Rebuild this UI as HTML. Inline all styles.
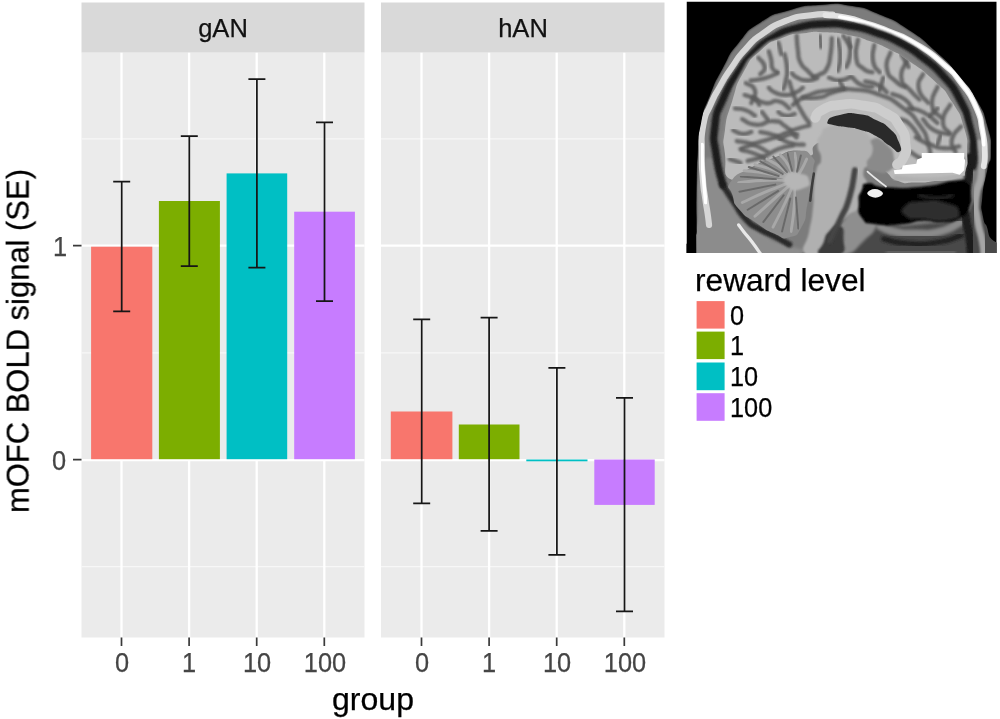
<!DOCTYPE html>
<html>
<head>
<meta charset="utf-8">
<title>mOFC BOLD signal by group</title>
<style>
html,body{margin:0;padding:0;background:#fff;}
body{width:1000px;height:719px;position:relative;overflow:hidden;font-family:"Liberation Sans",sans-serif;}
#chart{position:absolute;left:0;top:0;width:1000px;height:719px;}
.t{position:absolute;white-space:nowrap;line-height:1;font-family:"Liberation Sans",sans-serif;}
.ax{color:#454545;font-size:27.6px;--sx:0.92;}
.strip{color:#111;font-size:26.6px;--sx:0.96;}
.big{color:#000;font-size:31.9px;--sx:1.005;}
.leg{color:#000;font-size:27.5px;--sx:0.92;}
.t{filter:blur(0.35px);transform-origin:0 50%;transform:scaleX(var(--sx));-webkit-text-stroke:0.25px currentColor;}
.c{transform:translateX(-50%) scaleX(var(--sx));transform-origin:50% 50%;}
</style>
</head>
<body>
<svg id="chart" width="1000" height="719" viewBox="0 0 1000 719">
  <!-- strips -->
  <rect x="81.5" y="2.5" width="283" height="50.2" fill="#d9d9d9"/>
  <rect x="381" y="2.5" width="283.5" height="50.2" fill="#d9d9d9"/>
  <!-- panels -->
  <rect x="81.5" y="52.7" width="283" height="584.8" fill="#ebebeb"/>
  <rect x="381" y="52.7" width="283.5" height="584.8" fill="#ebebeb"/>
  <!-- minor gridlines -->
  <g stroke="#f7f7f7" stroke-width="1.2">
    <path d="M81.5 138.9H364.5M81.5 352.9H364.5M81.5 566.7H364.5"/>
    <path d="M381 138.9H664.5M381 352.9H664.5M381 566.7H664.5"/>
  </g>
  <!-- major gridlines -->
  <g stroke="#ffffff" stroke-width="2.3">
    <path d="M81.5 245.6H364.5M81.5 460.2H364.5"/>
    <path d="M381 245.6H664.5M381 460.2H664.5"/>
    <path d="M121.5 52.7V637.5M189.1 52.7V637.5M256.7 52.7V637.5M324.3 52.7V637.5"/>
    <path d="M421.5 52.7V637.5M489.1 52.7V637.5M556.7 52.7V637.5M624.3 52.7V637.5"/>
  </g>
  <!-- bars panel 1 -->
  <rect x="91.1" y="246.7" width="61.2" height="212.5" fill="#f8766d"/>
  <rect x="158.9" y="201" width="61" height="258.2" fill="#7cae00"/>
  <rect x="226.6" y="173.4" width="60.6" height="285.8" fill="#00bfc4"/>
  <rect x="294.2" y="211.7" width="60.7" height="247.5" fill="#c77cff"/>
  <!-- bars panel 2 -->
  <rect x="390.8" y="411.5" width="61.6" height="47.7" fill="#f8766d"/>
  <rect x="458.8" y="424.5" width="60.7" height="34.7" fill="#7cae00"/>
  <rect x="526.3" y="459.5" width="61.2" height="1.8" fill="#00bfc4"/>
  <rect x="594.3" y="459.5" width="60.4" height="45.4" fill="#c77cff"/>
  <!-- error bars -->
  <g stroke="#161616" stroke-width="1.75" fill="none">
    <path d="M113.2 181.5H130.2M121.7 181.5V311.4M113.2 311.4H130.2"/>
    <path d="M180.8 136H197.8M189.3 136V266M180.8 266H197.8"/>
    <path d="M248.4 79.2H265.4M256.9 79.2V267.5M248.4 267.5H265.4"/>
    <path d="M316 122.3H333M324.5 122.3V301.2M316 301.2H333"/>
    <path d="M413.2 319.4H430.2M421.7 319.4V503.3M413.2 503.3H430.2"/>
    <path d="M480.6 317.5H497.6M489.1 317.5V530.8M480.6 530.8H497.6"/>
    <path d="M548.4 367.8H565.4M556.9 367.8V554.8M548.4 554.8H565.4"/>
    <path d="M616 397.8H633M624.5 397.8V611.3M616 611.3H633"/>
  </g>
  <!-- ticks -->
  <g stroke="#3a3a3a" stroke-width="1.7">
    <path d="M73 245.6H81.5M73 459.6H81.5"/>
    <path d="M121.5 637.5V646M189.1 637.5V646M256.7 637.5V646M324.3 637.5V646"/>
    <path d="M421.5 637.5V646M489.1 637.5V646M556.7 637.5V646M624.3 637.5V646"/>
  </g>
  <!-- legend keys -->
  <rect x="696.6" y="301.1" width="28" height="27.5" fill="#f8766d"/>
  <rect x="696.6" y="331.6" width="28" height="27.5" fill="#7cae00"/>
  <rect x="696.6" y="362.5" width="28" height="27.7" fill="#00bfc4"/>
  <rect x="696.6" y="393.2" width="28" height="27.6" fill="#c77cff"/>
  <!-- brain image placeholder -->
<!--BRAIN_START-->
  <defs>
    <clipPath id="bclip"><rect x="686.5" y="1.5" width="310.2" height="251.5"/></clipPath>
    <filter id="b0" x="-10%" y="-10%" width="120%" height="120%"><feGaussianBlur stdDeviation="0.9"/></filter>
    <filter id="b1s" x="-30%" y="-30%" width="160%" height="160%"><feGaussianBlur stdDeviation="2.4"/></filter>
    <filter id="b1" x="-10%" y="-10%" width="120%" height="120%"><feGaussianBlur stdDeviation="1.6"/></filter>
    <filter id="b2" x="-10%" y="-10%" width="120%" height="120%"><feGaussianBlur stdDeviation="3"/></filter>
    <filter id="b3" x="-10%" y="-10%" width="120%" height="120%"><feGaussianBlur stdDeviation="5"/></filter>
    <filter id="b4" x="-20%" y="-20%" width="140%" height="140%"><feGaussianBlur stdDeviation="9"/></filter>
    <clipPath id="headclip"><path d="M74.0,740.0 C-197.7,706.7 74.3,706.7 74.0,640.0 C73.7,573.3 72.3,610.0 73.0,540.0 C73.7,470.0 71.7,496.7 76.0,430.0 C80.3,363.3 74.7,395.0 86.0,340.0 C97.3,285.0 90.3,315.0 110.0,265.0 C129.7,215.0 118.3,239.0 145.0,190.0 C171.7,141.0 155.0,160.7 190.0,118.0 C225.0,75.3 203.3,92.0 250.0,62.0 C296.7,32.0 273.3,44.3 330.0,28.0 C386.7,11.7 363.3,17.0 420.0,13.0 C476.7,9.0 446.7,7.0 500.0,16.0 C553.3,25.0 526.7,18.0 580.0,40.0 C633.3,62.0 608.3,48.0 660.0,82.0 C711.7,116.0 688.3,99.3 735.0,142.0 C781.7,184.7 762.3,165.3 800.0,210.0 C837.7,254.7 822.0,230.0 848.0,276.0 C874.0,322.0 864.7,300.0 878.0,348.0 C891.3,396.0 888.0,379.3 888.0,420.0 C888.0,460.7 886.0,428.3 878.0,470.0 C870.0,511.7 868.0,501.7 864.0,545.0 C860.0,588.3 860.0,565.0 866.0,600.0 C872.0,635.0 874.3,603.3 882.0,650.0 C889.7,696.7 1158.3,710.0 889.0,740.0 C619.7,770.0 345.7,773.3 74.0,740.0 Z"/></clipPath>
    <clipPath id="cerebrum"><path d="M168.0,496.0 C142.7,484.0 157.3,470.3 152.0,425.0 C146.7,379.7 145.3,408.3 152.0,360.0 C158.7,311.7 155.0,333.3 172.0,280.0 C189.0,226.7 177.0,246.7 203.0,200.0 C229.0,153.3 214.3,171.7 250.0,140.0 C285.7,108.3 270.0,121.0 310.0,105.0 C350.0,89.0 330.7,97.3 370.0,92.0 C409.3,86.7 384.7,87.0 428.0,89.0 C471.3,91.0 457.3,89.3 500.0,98.0 C542.7,106.7 519.3,101.7 556.0,115.0 C592.7,128.3 576.7,121.3 610.0,138.0 C643.3,154.7 615.7,136.7 656.0,165.0 C696.3,193.3 689.3,183.7 731.0,223.0 C772.7,262.3 753.3,239.0 781.0,283.0 C808.7,327.0 800.3,309.3 814.0,355.0 C827.7,400.7 820.7,381.7 822.0,420.0 C823.3,458.3 825.3,446.7 818.0,470.0 C810.7,493.3 826.0,480.0 800.0,490.0 C774.0,500.0 780.0,495.0 740.0,500.0 C700.0,505.0 716.7,505.0 680.0,505.0 C643.3,505.0 660.0,511.7 630.0,500.0 C600.0,488.3 620.0,490.0 590.0,470.0 C560.0,450.0 576.7,460.0 540.0,440.0 C503.3,420.0 516.7,424.0 480.0,410.0 C443.3,396.0 456.7,400.7 430.0,398.0 C403.3,395.3 414.0,391.0 400.0,402.0 C386.0,413.0 405.3,426.3 388.0,431.0 C370.7,435.7 381.3,414.3 348.0,416.0 C314.7,417.7 328.0,421.0 288.0,436.0 C248.0,451.0 268.0,441.0 228.0,461.0 C188.0,481.0 193.3,508.0 168.0,496.0 Z"/></clipPath>
  </defs>
  <g id="brain" clip-path="url(#bclip)">
    <rect x="686.5" y="1.5" width="310.2" height="251.5" fill="#000"/>
    <g transform="translate(670,0) scale(0.36145,0.36161)">
      <g clip-path="url(#headclip)" filter="url(#b0)">
      <path filter="url(#b2)" fill="#7c7c7c" d="M74.0,740.0 C-197.7,706.7 74.3,706.7 74.0,640.0 C73.7,573.3 72.3,610.0 73.0,540.0 C73.7,470.0 71.7,496.7 76.0,430.0 C80.3,363.3 74.7,395.0 86.0,340.0 C97.3,285.0 90.3,315.0 110.0,265.0 C129.7,215.0 118.3,239.0 145.0,190.0 C171.7,141.0 155.0,160.7 190.0,118.0 C225.0,75.3 203.3,92.0 250.0,62.0 C296.7,32.0 273.3,44.3 330.0,28.0 C386.7,11.7 363.3,17.0 420.0,13.0 C476.7,9.0 446.7,7.0 500.0,16.0 C553.3,25.0 526.7,18.0 580.0,40.0 C633.3,62.0 608.3,48.0 660.0,82.0 C711.7,116.0 688.3,99.3 735.0,142.0 C781.7,184.7 762.3,165.3 800.0,210.0 C837.7,254.7 822.0,230.0 848.0,276.0 C874.0,322.0 864.7,300.0 878.0,348.0 C891.3,396.0 888.0,379.3 888.0,420.0 C888.0,460.7 886.0,428.3 878.0,470.0 C870.0,511.7 868.0,501.7 864.0,545.0 C860.0,588.3 860.0,565.0 866.0,600.0 C872.0,635.0 874.3,603.3 882.0,650.0 C889.7,696.7 1158.3,710.0 889.0,740.0 C619.7,770.0 345.7,773.3 74.0,740.0 Z"/>
      <path filter="url(#b3)" fill="#8c8c8c" d="M74.0,740.0 C-44.0,693.3 72.7,686.7 76.0,600.0 C79.3,513.3 69.3,533.3 84.0,480.0 C98.7,426.7 98.0,433.3 120.0,440.0 C142.0,446.7 126.7,456.7 150.0,500.0 C173.3,543.3 156.7,523.3 190.0,570.0 C223.3,616.7 203.3,603.3 250.0,640.0 C296.7,676.7 270.0,660.0 330.0,680.0 C390.0,700.0 396.7,680.0 430.0,700.0 C463.3,720.0 548.7,726.7 430.0,740.0 C311.3,753.3 192.0,786.7 74.0,740.0 Z"/>
      <path filter="url(#b3)" fill="#4a4a4a" d="M440.0,650.0 C470.0,603.3 466.7,610.0 520.0,600.0 C573.3,590.0 540.0,613.3 600.0,620.0 C660.0,626.7 633.3,626.7 700.0,620.0 C766.7,613.3 753.3,620.0 800.0,600.0 C846.7,580.0 816.7,586.7 840.0,560.0 C863.3,533.3 855.0,506.7 870.0,520.0 C885.0,533.3 877.3,526.7 885.0,600.0 C892.7,673.3 1044.7,693.3 893.0,740.0 C741.3,786.7 581.0,770.0 430.0,740.0 C279.0,710.0 410.0,696.7 440.0,650.0 Z"/>
      <path filter="url(#b3)" fill="#8e8e8e" d="M531.5,560.7 C561.5,555.7 568.2,559.0 581.5,580.7 C594.8,602.4 586.5,597.4 571.5,625.7 C556.5,654.0 564.8,639.0 536.5,665.7 C508.2,692.4 519.8,692.4 486.5,705.7 C453.2,719.0 446.5,725.7 436.5,705.7 C426.5,685.7 438.2,682.4 456.5,645.7 C474.8,609.0 466.5,624.0 491.5,595.7 C516.5,567.4 501.5,565.7 531.5,560.7 Z"/>
      <path filter="url(#b3)" fill="none" stroke="#8a8a8a" stroke-width="22" stroke-linecap="round" stroke-linejoin="round" d="M581.5,625.7 C594.8,630.7 588.2,634.0 621.5,640.7 C654.8,647.4 639.8,645.7 681.5,645.7 C723.2,645.7 706.5,650.7 746.5,640.7 C786.5,630.7 783.2,624.0 801.5,615.7"/>
      <path filter="url(#b3)" fill="none" stroke="#1e1e1e" stroke-width="14" stroke-linecap="round" stroke-linejoin="round" d="M591.5,660.7 C613.2,664.9 608.2,669.9 656.5,673.2 C704.8,676.5 686.5,678.2 736.5,670.7 C786.5,663.2 783.2,657.4 806.5,650.7"/>
      <path filter="url(#b3)" fill="none" stroke="#606060" stroke-width="20" stroke-linecap="round" stroke-linejoin="round" d="M606.5,695.7 C631.5,696.5 623.2,698.2 681.5,698.2 C739.8,698.2 748.2,696.5 781.5,695.7"/>
      <path filter="url(#b2)" fill="none" stroke="#1c1c1c" stroke-width="24" stroke-linecap="round" stroke-linejoin="round" d="M825.5,405.7 C826.7,429.0 832.8,429.0 829.0,475.7 C825.2,522.4 817.3,502.4 814.0,545.7 C810.7,589.0 814.0,569.0 819.0,605.7 C824.0,642.4 824.0,622.4 829.0,655.7 C834.0,689.0 832.3,689.0 834.0,705.7"/>
      <path filter="url(#b2)" fill="none" stroke="#a6a6a6" stroke-width="20" stroke-linecap="round" stroke-linejoin="round" d="M856.5,395.7 C858.5,420.7 865.8,420.7 862.5,470.7 C859.2,520.7 850.5,500.7 846.5,545.7 C842.5,590.7 844.7,565.7 850.5,605.7 C856.3,645.7 857.8,632.4 864.0,665.7 C870.2,699.0 867.3,692.4 869.0,705.7"/>
      <path filter="url(#b1)" fill="none" stroke="#d6d6d6" stroke-width="17" stroke-linecap="round" stroke-linejoin="round" d="M108.0,622.0 C106.7,611.3 107.7,615.3 104.0,590.0 C100.3,564.7 101.3,577.3 97.0,546.0 C92.7,514.7 94.0,537.7 91.0,496.0 C88.0,454.3 87.7,471.0 88.0,421.0 C88.3,371.0 84.0,389.7 92.0,346.0 C100.0,302.3 96.7,325.3 112.0,290.0 C127.3,254.7 118.7,274.0 138.0,240.0 C157.3,206.0 146.0,223.0 170.0,188.0 C194.0,153.0 180.7,167.0 210.0,135.0 C239.3,103.0 221.3,117.7 258.0,92.0 C294.7,66.3 276.0,74.7 320.0,58.0 C364.0,41.3 346.7,48.0 390.0,42.0 C433.3,36.0 430.0,40.7 450.0,40.0"/>
      <path filter="url(#b1)" fill="none" stroke="#ffffff" stroke-width="10" stroke-linecap="round" stroke-linejoin="round" d="M99.0,560.0 C97.0,538.7 96.3,536.0 93.0,496.0 C89.7,456.0 90.3,472.0 89.0,440.0 C87.7,408.0 89.0,413.3 89.0,400.0"/>
      <path filter="url(#b1)" fill="none" stroke="#e4e4e4" stroke-width="16" stroke-linecap="round" stroke-linejoin="round" d="M430.0,42.0 C448.0,44.0 450.3,41.7 484.0,48.0 C517.7,54.3 490.3,48.0 531.0,61.0 C571.7,74.0 556.0,66.7 606.0,87.0 C656.0,107.3 631.0,92.0 681.0,122.0 C731.0,152.0 714.3,141.0 756.0,177.0 C797.7,213.0 776.0,190.7 806.0,230.0 C836.0,269.3 826.7,251.7 846.0,295.0 C865.3,338.3 855.7,318.3 864.0,360.0 C872.3,401.7 869.7,386.7 871.0,420.0 C872.3,453.3 869.0,446.7 868.0,460.0"/>
      <path filter="url(#b0)" fill="none" stroke="#ffffff" stroke-width="10" stroke-linecap="round" stroke-linejoin="round" d="M470.0,47.0 C490.3,51.7 485.7,47.7 531.0,61.0 C576.3,74.3 556.0,66.7 606.0,87.0 C656.0,107.3 631.0,92.0 681.0,122.0 C731.0,152.0 714.3,141.0 756.0,177.0 C797.7,213.0 776.0,190.7 806.0,230.0 C836.0,269.3 827.0,254.3 846.0,295.0 C865.0,335.7 855.7,317.0 863.0,352.0 C870.3,387.0 866.3,384.0 868.0,400.0"/>
      <path filter="url(#b1)" fill="none" stroke="#e8e8e8" stroke-width="9" stroke-linecap="round" stroke-linejoin="round" d="M190.0,622.0 C195.0,628.7 193.0,626.7 205.0,642.0 C217.0,657.3 210.3,647.3 226.0,668.0 C241.7,688.7 243.3,692.0 252.0,704.0"/>
      <path filter="url(#b2)" fill="none" stroke="#2a2a2a" stroke-width="17" stroke-linecap="round" stroke-linejoin="round" d="M330.0,676.0 C316.0,668.3 317.0,668.0 288.0,653.0 C259.0,638.0 269.0,646.7 243.0,631.0 C217.0,615.3 231.7,629.3 210.0,606.0 C188.3,582.7 199.3,592.7 178.0,561.0 C156.7,529.3 156.7,527.7 146.0,511.0"/>
      <path filter="url(#b2)" fill="none" stroke="#1e1e1e" stroke-width="21" stroke-linecap="round" stroke-linejoin="round" d="M146.0,511.0 C140.0,484.0 135.3,483.7 128.0,430.0 C120.7,376.3 118.0,401.7 124.0,350.0 C130.0,298.3 124.3,325.0 146.0,275.0 C167.7,225.0 160.3,243.0 189.0,200.0 C217.7,157.0 199.7,178.0 232.0,146.0 C264.3,114.0 246.7,126.7 286.0,104.0 C325.3,81.3 302.7,90.7 350.0,78.0 C397.3,65.3 378.0,68.0 428.0,66.0 C478.0,64.0 452.7,64.0 500.0,72.0 C547.3,80.0 523.3,74.0 570.0,90.0 C616.7,106.0 596.7,96.7 640.0,120.0 C683.3,143.3 661.3,130.0 700.0,160.0 C738.7,190.0 722.0,171.7 756.0,210.0 C790.0,248.3 777.7,228.3 802.0,275.0 C826.3,321.7 816.3,301.7 829.0,350.0 C841.7,398.3 837.0,383.3 840.0,420.0 C843.0,456.7 838.7,446.7 838.0,460.0"/>
      <path filter="url(#b2)" fill="none" stroke="#858585" stroke-width="12" stroke-linecap="round" stroke-linejoin="round" d="M150.0,400.0 C151.0,386.7 146.3,398.3 153.0,360.0 C159.7,321.7 154.3,336.7 170.0,285.0 C185.7,233.3 174.0,252.3 200.0,205.0 C226.0,157.7 212.0,175.7 248.0,143.0 C284.0,110.3 267.3,123.7 308.0,107.0 C348.7,90.3 330.0,98.7 370.0,93.0 C410.0,87.3 384.7,88.0 428.0,90.0 C471.3,92.0 457.3,90.3 500.0,99.0 C542.7,107.7 519.3,102.7 556.0,116.0 C592.7,129.3 576.7,122.3 610.0,139.0 C643.3,155.7 615.7,137.7 656.0,166.0 C696.3,194.3 689.3,184.7 731.0,224.0 C772.7,263.3 753.0,240.0 781.0,284.0 C809.0,328.0 801.0,310.7 815.0,356.0 C829.0,401.3 820.3,398.7 823.0,420.0"/>
      <path filter="url(#b1)" fill="#bbbbbb" d="M168.0,496.0 C142.7,484.0 157.3,470.3 152.0,425.0 C146.7,379.7 145.3,408.3 152.0,360.0 C158.7,311.7 155.0,333.3 172.0,280.0 C189.0,226.7 177.0,246.7 203.0,200.0 C229.0,153.3 214.3,171.7 250.0,140.0 C285.7,108.3 270.0,121.0 310.0,105.0 C350.0,89.0 330.7,97.3 370.0,92.0 C409.3,86.7 384.7,87.0 428.0,89.0 C471.3,91.0 457.3,89.3 500.0,98.0 C542.7,106.7 519.3,101.7 556.0,115.0 C592.7,128.3 576.7,121.3 610.0,138.0 C643.3,154.7 615.7,136.7 656.0,165.0 C696.3,193.3 689.3,183.7 731.0,223.0 C772.7,262.3 753.3,239.0 781.0,283.0 C808.7,327.0 800.3,309.3 814.0,355.0 C827.7,400.7 820.7,381.7 822.0,420.0 C823.3,458.3 825.3,446.7 818.0,470.0 C810.7,493.3 826.0,480.0 800.0,490.0 C774.0,500.0 780.0,495.0 740.0,500.0 C700.0,505.0 716.7,505.0 680.0,505.0 C643.3,505.0 660.0,511.7 630.0,500.0 C600.0,488.3 620.0,490.0 590.0,470.0 C560.0,450.0 576.7,460.0 540.0,440.0 C503.3,420.0 516.7,424.0 480.0,410.0 C443.3,396.0 456.7,400.7 430.0,398.0 C403.3,395.3 414.0,391.0 400.0,402.0 C386.0,413.0 405.3,426.3 388.0,431.0 C370.7,435.7 381.3,414.3 348.0,416.0 C314.7,417.7 328.0,421.0 288.0,436.0 C248.0,451.0 268.0,441.0 228.0,461.0 C188.0,481.0 193.3,508.0 168.0,496.0 Z"/>
      <g clip-path="url(#cerebrum)">
      <path filter="url(#b1s)" fill="none" stroke="#5c5c5c" stroke-width="12" stroke-linecap="round" stroke-linejoin="round" opacity="0.85" d="M350.5,98.8 C351.6,112.2 350.5,114.5 353.9,139.0 C357.3,163.5 351.7,153.5 360.6,172.4 C369.5,191.3 368.4,182.4 380.7,195.8 C393.0,209.2 391.8,207.0 397.4,212.6"/>
      <path filter="url(#b1s)" fill="none" stroke="#5c5c5c" stroke-width="12" stroke-linecap="round" stroke-linejoin="round" opacity="0.85" d="M447.6,105.5 C446.5,120.0 448.8,121.1 444.3,149.0 C439.8,176.9 444.2,170.1 434.2,189.1 C424.2,208.1 426.5,198.1 414.2,205.9 C401.9,213.7 403.0,210.4 397.4,212.6"/>
      <path filter="url(#b1s)" fill="none" stroke="#5c5c5c" stroke-width="12" stroke-linecap="round" stroke-linejoin="round" opacity="0.85" d="M387.4,98.8 C387.4,112.2 387.4,125.6 387.4,139.0"/>
      <path filter="url(#b1s)" fill="none" stroke="#5c5c5c" stroke-width="12" stroke-linecap="round" stroke-linejoin="round" opacity="0.85" d="M273.5,142.3 C275.7,150.1 276.8,150.1 280.2,165.7 C283.6,181.3 278.0,177.9 283.6,189.1 C289.2,200.3 292.5,195.8 297.0,199.2"/>
      <path filter="url(#b1s)" fill="none" stroke="#5c5c5c" stroke-width="12" stroke-linecap="round" stroke-linejoin="round" opacity="0.85" d="M317.1,150.0 C319.3,163.0 322.7,164.9 323.8,189.1 C324.9,213.3 323.8,203.6 320.4,222.6 C317.0,241.6 315.9,238.2 313.7,246.0"/>
      <path filter="url(#b1s)" fill="none" stroke="#5c5c5c" stroke-width="12" stroke-linecap="round" stroke-linejoin="round" opacity="0.85" d="M223.3,222.6 C236.7,220.4 238.9,222.6 263.5,215.9 C288.1,209.2 285.8,207.0 297.0,202.5"/>
      <path filter="url(#b1s)" fill="none" stroke="#5c5c5c" stroke-width="12" stroke-linecap="round" stroke-linejoin="round" opacity="0.85" d="M273.5,242.7 C279.1,247.1 274.7,249.3 290.3,256.0 C305.9,262.7 301.4,262.8 320.4,262.8 C339.4,262.8 331.6,262.7 347.2,256.0 C362.8,249.3 360.6,247.1 367.3,242.7"/>
      <path filter="url(#b1s)" fill="none" stroke="#5c5c5c" stroke-width="12" stroke-linecap="round" stroke-linejoin="round" opacity="0.85" d="M337.2,202.5 C342.8,207.0 339.4,209.2 353.9,215.9 C368.4,222.6 362.8,222.6 380.7,222.6 C398.6,222.6 398.6,218.1 407.5,215.9"/>
      <path filter="url(#b1s)" fill="none" stroke="#5c5c5c" stroke-width="12" stroke-linecap="round" stroke-linejoin="round" opacity="0.85" d="M367.3,269.4 C382.9,269.4 387.4,273.9 414.2,269.4 C441.0,264.9 424.3,263.8 447.6,256.0 C470.9,248.2 471.9,249.3 484.1,246.0"/>
      <path filter="url(#b1s)" fill="none" stroke="#5c5c5c" stroke-width="12" stroke-linecap="round" stroke-linejoin="round" opacity="0.85" d="M464.4,108.8 C466.6,124.4 471.1,126.7 471.1,155.7 C471.1,184.7 466.6,182.4 464.4,195.8"/>
      <path filter="url(#b1s)" fill="none" stroke="#5c5c5c" stroke-width="12" stroke-linecap="round" stroke-linejoin="round" opacity="0.85" d="M206.6,262.8 C215.5,266.1 220.0,263.9 233.4,272.8 C246.8,281.7 242.3,283.9 246.8,289.5"/>
      <path filter="url(#b1s)" fill="none" stroke="#5c5c5c" stroke-width="12" stroke-linecap="round" stroke-linejoin="round" opacity="0.85" d="M245.0,160.0 C250.7,168.3 260.3,170.0 262.0,185.0 C263.7,200.0 254.0,198.3 250.0,205.0"/>
      <path filter="url(#b1s)" fill="none" stroke="#5c5c5c" stroke-width="12" stroke-linecap="round" stroke-linejoin="round" opacity="0.85" d="M300.0,118.0 C302.7,128.7 305.3,139.3 308.0,150.0"/>
      <path filter="url(#b1s)" fill="none" stroke="#5c5c5c" stroke-width="12" stroke-linecap="round" stroke-linejoin="round" opacity="0.85" d="M415.0,100.0 C416.0,110.0 417.0,120.0 418.0,130.0"/>
      <path filter="url(#b1s)" fill="none" stroke="#5c5c5c" stroke-width="12" stroke-linecap="round" stroke-linejoin="round" opacity="0.85" d="M495.0,105.0 C496.0,120.0 500.3,123.3 498.0,150.0 C495.7,176.7 491.3,173.3 488.0,185.0"/>
      <path filter="url(#b1s)" fill="none" stroke="#5c5c5c" stroke-width="12" stroke-linecap="round" stroke-linejoin="round" opacity="0.85" d="M440.0,215.0 C450.0,217.3 450.0,223.0 470.0,222.0 C490.0,221.0 490.0,215.3 500.0,212.0"/>
      <path filter="url(#b1s)" fill="none" stroke="#5c5c5c" stroke-width="12" stroke-linecap="round" stroke-linejoin="round" opacity="0.85" d="M520.0,110.0 C518.3,126.7 510.0,133.3 515.0,160.0 C520.0,186.7 520.0,176.7 535.0,190.0 C550.0,203.3 551.7,196.7 560.0,200.0"/>
      <path filter="url(#b1s)" fill="none" stroke="#5c5c5c" stroke-width="12" stroke-linecap="round" stroke-linejoin="round" opacity="0.85" d="M565.0,125.0 C564.0,140.0 557.0,145.0 562.0,170.0 C567.0,195.0 574.0,190.0 580.0,200.0"/>
      <path filter="url(#b1s)" fill="none" stroke="#5c5c5c" stroke-width="12" stroke-linecap="round" stroke-linejoin="round" opacity="0.85" d="M610.0,145.0 C606.7,160.0 595.0,163.3 600.0,190.0 C605.0,216.7 608.3,208.3 625.0,225.0 C641.7,241.7 641.7,235.0 650.0,240.0"/>
      <path filter="url(#b1s)" fill="none" stroke="#5c5c5c" stroke-width="12" stroke-linecap="round" stroke-linejoin="round" opacity="0.85" d="M655.0,170.0 C650.0,185.0 636.7,188.3 640.0,215.0 C643.3,241.7 648.3,230.0 665.0,250.0 C681.7,270.0 681.7,266.7 690.0,275.0"/>
      <path filter="url(#b1s)" fill="none" stroke="#5c5c5c" stroke-width="12" stroke-linecap="round" stroke-linejoin="round" opacity="0.85" d="M700.0,205.0 C696.0,218.3 683.0,218.3 688.0,245.0 C693.0,271.7 706.0,271.7 715.0,285.0"/>
      <path filter="url(#b1s)" fill="none" stroke="#5c5c5c" stroke-width="12" stroke-linecap="round" stroke-linejoin="round" opacity="0.85" d="M740.0,240.0 C735.0,256.7 721.7,261.7 725.0,290.0 C728.3,318.3 741.7,313.3 750.0,325.0"/>
      <path filter="url(#b1s)" fill="none" stroke="#5c5c5c" stroke-width="12" stroke-linecap="round" stroke-linejoin="round" opacity="0.85" d="M775.0,290.0 C768.3,305.0 755.0,308.3 755.0,335.0 C755.0,361.7 768.3,358.3 775.0,370.0"/>
      <path filter="url(#b1s)" fill="none" stroke="#5c5c5c" stroke-width="12" stroke-linecap="round" stroke-linejoin="round" opacity="0.85" d="M805.0,350.0 C796.7,361.7 785.0,361.7 780.0,385.0 C775.0,408.3 786.7,408.3 790.0,420.0"/>
      <path filter="url(#b1s)" fill="none" stroke="#5c5c5c" stroke-width="12" stroke-linecap="round" stroke-linejoin="round" opacity="0.85" d="M340.0,290.0 C353.3,281.7 346.7,278.3 380.0,265.0 C413.3,251.7 396.7,255.7 440.0,250.0 C483.3,244.3 463.3,244.0 510.0,248.0 C556.7,252.0 536.7,246.3 580.0,262.0 C623.3,277.7 603.3,267.3 640.0,295.0 C676.7,322.7 665.0,310.0 690.0,345.0 C715.0,380.0 705.0,368.3 715.0,400.0 C725.0,431.7 718.3,426.7 720.0,440.0"/>
      <path filter="url(#b1s)" fill="none" stroke="#5c5c5c" stroke-width="12" stroke-linecap="round" stroke-linejoin="round" opacity="0.85" d="M230.0,270.0 C241.7,275.0 241.7,281.7 265.0,285.0 C288.3,288.3 278.3,275.0 300.0,280.0 C321.7,285.0 320.0,293.3 330.0,300.0"/>
      <path filter="url(#b1s)" fill="none" stroke="#5c5c5c" stroke-width="12" stroke-linecap="round" stroke-linejoin="round" opacity="0.85" d="M200.0,330.0 C213.3,335.0 211.7,343.3 240.0,345.0 C268.3,346.7 258.3,333.3 285.0,335.0 C311.7,336.7 298.3,335.0 320.0,350.0 C341.7,365.0 340.0,370.0 350.0,380.0"/>
      <path filter="url(#b1s)" fill="none" stroke="#5c5c5c" stroke-width="12" stroke-linecap="round" stroke-linejoin="round" opacity="0.85" d="M185.0,390.0 C200.0,393.3 201.7,390.0 230.0,400.0 C258.3,410.0 256.7,413.3 270.0,420.0"/>
      <path filter="url(#b1s)" fill="none" stroke="#5c5c5c" stroke-width="12" stroke-linecap="round" stroke-linejoin="round" opacity="0.85" d="M215.0,445.0 C230.0,440.7 231.7,443.0 260.0,432.0 C288.3,421.0 273.3,422.0 300.0,412.0 C326.7,402.0 326.7,405.3 340.0,402.0"/>
      <path filter="url(#b1s)" fill="none" stroke="#5c5c5c" stroke-width="12" stroke-linecap="round" stroke-linejoin="round" opacity="0.85" d="M250.0,365.0 C263.3,368.3 263.3,365.0 290.0,375.0 C316.7,385.0 303.3,386.7 330.0,395.0 C356.7,403.3 356.7,398.3 370.0,400.0"/>
      <path filter="url(#b1s)" fill="none" stroke="#5c5c5c" stroke-width="12" stroke-linecap="round" stroke-linejoin="round" opacity="0.85" d="M330.0,225.0 C335.0,240.0 333.3,241.7 345.0,270.0 C356.7,298.3 351.7,286.7 365.0,310.0 C378.3,333.3 378.3,330.0 385.0,340.0"/>
      <path filter="url(#b1s)" fill="none" stroke="#5c5c5c" stroke-width="12" stroke-linecap="round" stroke-linejoin="round" opacity="0.85" d="M385.0,347.0 C370.0,351.3 371.7,349.0 340.0,360.0 C308.3,371.0 323.3,368.3 290.0,380.0 C256.7,391.7 271.7,384.3 240.0,395.0 C208.3,405.7 210.0,406.3 195.0,412.0"/>
      <path filter="url(#b1s)" fill="none" stroke="#5c5c5c" stroke-width="12" stroke-linecap="round" stroke-linejoin="round" opacity="0.85" d="M700.0,330.0 C710.0,340.0 706.7,346.7 730.0,360.0 C753.3,373.3 756.7,366.7 770.0,370.0"/>
      <path filter="url(#b1s)" fill="none" stroke="#5c5c5c" stroke-width="12" stroke-linecap="round" stroke-linejoin="round" opacity="0.85" d="M680.0,380.0 C693.3,386.7 693.3,390.0 720.0,400.0 C746.7,410.0 733.3,408.3 760.0,410.0 C786.7,411.7 786.7,406.7 800.0,405.0"/>
      <path filter="url(#b1s)" fill="none" stroke="#5c5c5c" stroke-width="12" stroke-linecap="round" stroke-linejoin="round" opacity="0.85" d="M660.0,300.0 C673.3,303.3 673.3,296.7 700.0,310.0 C726.7,323.3 726.7,330.0 740.0,340.0"/>
      <path filter="url(#b1s)" fill="none" stroke="#5c5c5c" stroke-width="12" stroke-linecap="round" stroke-linejoin="round" opacity="0.85" d="M210.0,230.0 C218.3,236.7 230.0,231.7 235.0,250.0 C240.0,268.3 228.3,273.3 225.0,285.0"/>
      <path filter="url(#b1s)" fill="none" stroke="#5c5c5c" stroke-width="12" stroke-linecap="round" stroke-linejoin="round" opacity="0.85" d="M180.0,300.0 C190.0,301.7 191.7,298.3 210.0,305.0 C228.3,311.7 226.7,315.0 235.0,320.0"/>
      <path filter="url(#b1s)" fill="none" stroke="#5c5c5c" stroke-width="12" stroke-linecap="round" stroke-linejoin="round" opacity="0.85" d="M540.0,225.0 C551.7,228.3 555.0,225.0 575.0,235.0 C595.0,245.0 591.7,248.3 600.0,255.0"/>
      <path filter="url(#b1s)" fill="none" stroke="#5c5c5c" stroke-width="12" stroke-linecap="round" stroke-linejoin="round" opacity="0.85" d="M165.0,440.0 C175.0,443.3 185.0,446.7 195.0,450.0"/>
      <path filter="url(#b1s)" fill="none" stroke="#5c5c5c" stroke-width="12" stroke-linecap="round" stroke-linejoin="round" opacity="0.85" d="M480.0,100.0 C486.7,110.0 493.3,120.0 500.0,130.0"/>
      <path filter="url(#b1s)" fill="none" stroke="#5c5c5c" stroke-width="12" stroke-linecap="round" stroke-linejoin="round" opacity="0.85" d="M640.0,150.0 C646.7,161.7 653.3,173.3 660.0,185.0"/>
      <path filter="url(#b1s)" fill="none" stroke="#5c5c5c" stroke-width="12" stroke-linecap="round" stroke-linejoin="round" opacity="0.85" d="M505.0,215.0 C513.3,221.7 511.7,226.7 530.0,235.0 C548.3,243.3 550.0,238.3 560.0,240.0"/>
      <path filter="url(#b1s)" fill="none" stroke="#5c5c5c" stroke-width="12" stroke-linecap="round" stroke-linejoin="round" opacity="0.85" d="M615.0,260.0 C626.7,265.0 631.7,261.7 650.0,275.0 C668.3,288.3 663.3,291.7 670.0,300.0"/>
      <path filter="url(#b1s)" fill="none" stroke="#5c5c5c" stroke-width="12" stroke-linecap="round" stroke-linejoin="round" opacity="0.85" d="M720.0,320.0 C726.7,313.3 733.3,306.7 740.0,300.0"/>
      <path filter="url(#b1s)" fill="none" stroke="#5c5c5c" stroke-width="12" stroke-linecap="round" stroke-linejoin="round" opacity="0.85" d="M175.0,360.0 C183.3,363.3 183.3,368.3 200.0,370.0 C216.7,371.7 216.7,366.7 225.0,365.0"/>
      <path filter="url(#b1s)" fill="none" stroke="#5c5c5c" stroke-width="12" stroke-linecap="round" stroke-linejoin="round" opacity="0.85" d="M300.0,310.0 C306.7,313.3 305.0,318.3 320.0,320.0 C335.0,321.7 336.7,316.7 345.0,315.0"/>
      <path filter="url(#b1s)" fill="none" stroke="#5c5c5c" stroke-width="12" stroke-linecap="round" stroke-linejoin="round" opacity="0.85" d="M255.0,310.0 C260.0,316.7 265.0,323.3 270.0,330.0"/>
      <path filter="url(#b1s)" fill="none" stroke="#5c5c5c" stroke-width="12" stroke-linecap="round" stroke-linejoin="round" opacity="0.85" d="M200.0,415.0 C211.7,418.3 213.3,416.7 235.0,425.0 C256.7,433.3 255.0,435.0 265.0,440.0"/>
      <path filter="url(#b1s)" fill="none" stroke="#5c5c5c" stroke-width="12" stroke-linecap="round" stroke-linejoin="round" opacity="0.85" d="M305.0,385.0 C313.3,380.7 314.3,376.3 330.0,372.0 C345.7,367.7 344.7,372.0 352.0,372.0"/>
      <path filter="url(#b1s)" fill="none" stroke="#5c5c5c" stroke-width="12" stroke-linecap="round" stroke-linejoin="round" opacity="0.85" d="M760.0,430.0 C770.0,435.0 773.3,441.7 790.0,445.0 C806.7,448.3 803.3,441.7 810.0,440.0"/>
      <path filter="url(#b1s)" fill="none" stroke="#5c5c5c" stroke-width="12" stroke-linecap="round" stroke-linejoin="round" opacity="0.85" d="M665.0,420.0 C676.7,426.7 675.0,431.7 700.0,440.0 C725.0,448.3 726.7,443.3 740.0,445.0"/>
      <path filter="url(#b1s)" fill="none" stroke="#5c5c5c" stroke-width="12" stroke-linecap="round" stroke-linejoin="round" opacity="0.85" d="M640.0,330.0 C648.3,335.0 648.3,328.3 665.0,345.0 C681.7,361.7 681.7,368.3 690.0,380.0"/>
      <path filter="url(#b1s)" fill="none" stroke="#5c5c5c" stroke-width="12" stroke-linecap="round" stroke-linejoin="round" opacity="0.85" d="M748.0,375.0 C745.3,383.3 742.7,391.7 740.0,400.0"/>
      <path filter="url(#b1s)" fill="none" stroke="#5c5c5c" stroke-width="12" stroke-linecap="round" stroke-linejoin="round" opacity="0.85" d="M590.0,215.0 C586.7,226.7 583.3,238.3 580.0,250.0"/>
      <path filter="url(#b1s)" fill="none" stroke="#5c5c5c" stroke-width="12" stroke-linecap="round" stroke-linejoin="round" opacity="0.85" d="M470.0,225.0 C473.3,231.7 476.7,238.3 480.0,245.0"/>
      </g>
      <path filter="url(#b1)" fill="#8d8d8d" d="M170.0,500.0 C188.3,474.3 188.7,483.7 228.0,463.0 C267.3,442.3 248.0,453.0 288.0,438.0 C328.0,423.0 313.3,419.7 348.0,418.0 C382.7,416.3 376.0,415.7 392.0,433.0 C408.0,450.3 396.7,444.0 396.0,470.0 C395.3,496.0 395.3,479.0 390.0,511.0 C384.7,543.0 388.3,527.7 380.0,566.0 C371.7,604.3 381.7,596.0 365.0,626.0 C348.3,656.0 355.7,649.3 330.0,656.0 C304.3,662.7 318.7,659.3 288.0,646.0 C257.3,632.7 269.7,637.7 238.0,616.0 C206.3,594.3 214.7,606.3 193.0,581.0 C171.3,555.7 180.7,567.0 173.0,540.0 C165.3,513.0 151.7,525.7 170.0,500.0 Z"/>
      <path filter="url(#b1)" fill="none" stroke="#a8a8a8" stroke-width="8" stroke-linecap="round" stroke-linejoin="round" d="M345.0,500.0 C320.5,499.5 323.2,496.8 271.5,498.5 C219.8,500.2 217.2,502.8 190.0,505.0"/>
      <path filter="url(#b1)" fill="none" stroke="#a8a8a8" stroke-width="8" stroke-linecap="round" stroke-linejoin="round" d="M345.0,500.0 C323.0,494.0 325.7,491.3 279.0,482.0 C232.3,472.7 229.7,475.3 205.0,472.0"/>
      <path filter="url(#b1)" fill="none" stroke="#a8a8a8" stroke-width="8" stroke-linecap="round" stroke-linejoin="round" d="M345.0,500.0 C328.0,491.2 330.7,488.5 294.0,473.5 C257.3,458.5 254.7,461.2 235.0,455.0"/>
      <path filter="url(#b1)" fill="none" stroke="#a8a8a8" stroke-width="8" stroke-linecap="round" stroke-linejoin="round" d="M345.0,500.0 C333.5,488.7 336.2,486.0 310.5,466.0 C284.8,446.0 282.2,448.7 268.0,440.0"/>
      <path filter="url(#b1)" fill="none" stroke="#a8a8a8" stroke-width="8" stroke-linecap="round" stroke-linejoin="round" d="M345.0,500.0 C339.7,486.7 342.3,484.0 329.0,460.0 C315.7,436.0 313.0,438.7 305.0,428.0"/>
      <path filter="url(#b1)" fill="none" stroke="#a8a8a8" stroke-width="8" stroke-linecap="round" stroke-linejoin="round" d="M345.0,500.0 C346.3,486.0 349.0,483.3 349.0,458.0 C349.0,432.7 346.3,435.3 345.0,424.0"/>
      <path filter="url(#b1)" fill="none" stroke="#a8a8a8" stroke-width="8" stroke-linecap="round" stroke-linejoin="round" d="M345.0,500.0 C351.8,488.7 354.5,486.0 365.5,466.0 C376.5,446.0 373.8,448.7 378.0,440.0"/>
      <path filter="url(#b1)" fill="none" stroke="#a8a8a8" stroke-width="8" stroke-linecap="round" stroke-linejoin="round" d="M345.0,500.0 C322.2,508.7 324.8,506.0 276.5,526.0 C228.2,546.0 225.5,548.7 200.0,560.0"/>
      <path filter="url(#b1)" fill="none" stroke="#a8a8a8" stroke-width="8" stroke-linecap="round" stroke-linejoin="round" d="M345.0,500.0 C328.0,515.0 330.7,512.3 294.0,545.0 C257.3,577.7 254.7,580.3 235.0,598.0"/>
      <path filter="url(#b1)" fill="none" stroke="#a8a8a8" stroke-width="8" stroke-linecap="round" stroke-linejoin="round" d="M345.0,500.0 C336.3,520.0 339.0,517.3 319.0,560.0 C299.0,602.7 296.3,605.3 285.0,628.0"/>
      <path filter="url(#b1)" fill="none" stroke="#a8a8a8" stroke-width="8" stroke-linecap="round" stroke-linejoin="round" d="M345.0,500.0 C344.7,522.0 347.3,519.3 344.0,566.0 C340.7,612.7 338.0,615.3 335.0,640.0"/>
      <path filter="url(#b1)" fill="none" stroke="#666666" stroke-width="5.5" stroke-linecap="round" stroke-linejoin="round" opacity="0.9" d="M292.9,495.8 C260.6,493.2 228.3,490.6 196.0,488.0"/>
      <path filter="url(#b1)" fill="none" stroke="#666666" stroke-width="5.5" stroke-linecap="round" stroke-linejoin="round" opacity="0.9" d="M300.6,486.7 C273.0,478.5 245.5,470.2 218.0,462.0"/>
      <path filter="url(#b1)" fill="none" stroke="#666666" stroke-width="5.5" stroke-linecap="round" stroke-linejoin="round" opacity="0.9" d="M311.8,481.1 C291.2,469.4 270.6,457.7 250.0,446.0"/>
      <path filter="url(#b1)" fill="none" stroke="#666666" stroke-width="5.5" stroke-linecap="round" stroke-linejoin="round" opacity="0.9" d="M324.4,476.5 C311.6,462.0 298.8,447.5 286.0,433.0"/>
      <path filter="url(#b1)" fill="none" stroke="#666666" stroke-width="5.5" stroke-linecap="round" stroke-linejoin="round" opacity="0.9" d="M338.0,473.4 C333.7,456.9 329.3,440.5 325.0,424.0"/>
      <path filter="url(#b1)" fill="none" stroke="#666666" stroke-width="5.5" stroke-linecap="round" stroke-linejoin="round" opacity="0.9" d="M350.9,475.5 C354.6,460.3 358.3,445.2 362.0,430.0"/>
      <path filter="url(#b1)" fill="none" stroke="#666666" stroke-width="5.5" stroke-linecap="round" stroke-linejoin="round" opacity="0.9" d="M291.4,510.5 C258.3,517.0 225.2,523.5 192.0,530.0"/>
      <path filter="url(#b1)" fill="none" stroke="#666666" stroke-width="5.5" stroke-linecap="round" stroke-linejoin="round" opacity="0.9" d="M299.5,528.0 C271.3,545.3 243.2,562.7 215.0,580.0"/>
      <path filter="url(#b1)" fill="none" stroke="#666666" stroke-width="5.5" stroke-linecap="round" stroke-linejoin="round" opacity="0.9" d="M314.6,539.9 C295.7,564.6 276.9,589.3 258.0,614.0"/>
      <path filter="url(#b1)" fill="none" stroke="#666666" stroke-width="5.5" stroke-linecap="round" stroke-linejoin="round" opacity="0.9" d="M332.8,549.0 C325.2,579.3 317.6,609.7 310.0,640.0"/>
      <path filter="url(#b1)" fill="none" stroke="#666666" stroke-width="5.5" stroke-linecap="round" stroke-linejoin="round" opacity="0.9" d="M348.5,546.2 C350.7,574.8 352.8,603.4 355.0,632.0"/>
      <path filter="url(#b2)" fill="#b6b6b6" d="M320.0,485.0 C330.0,471.7 338.3,475.0 360.0,480.0 C381.7,485.0 381.7,486.7 385.0,500.0 C388.3,513.3 388.3,513.3 370.0,520.0 C351.7,526.7 346.7,531.7 330.0,520.0 C313.3,508.3 310.0,498.3 320.0,485.0 Z"/>
      <path filter="url(#b2)" fill="#b0b0b0" d="M418.0,372.0 C428.7,355.3 412.7,359.0 440.0,350.0 C467.3,341.0 465.0,338.3 500.0,345.0 C535.0,351.7 524.3,348.3 545.0,370.0 C565.7,391.7 558.7,383.3 562.0,410.0 C565.3,436.7 564.0,428.3 555.0,450.0 C546.0,471.7 538.3,451.7 535.0,475.0 C531.7,498.3 548.3,488.3 545.0,520.0 C541.7,551.7 544.0,543.3 525.0,570.0 C506.0,596.7 512.3,576.7 488.0,600.0 C463.7,623.3 474.7,608.0 452.0,640.0 C429.3,672.0 446.7,676.0 420.0,696.0 C393.3,716.0 383.7,718.7 372.0,700.0 C360.3,681.3 377.3,680.0 385.0,640.0 C392.7,600.0 390.7,620.0 395.0,580.0 C399.3,540.0 394.7,556.7 398.0,520.0 C401.3,483.3 398.3,496.7 405.0,470.0 C411.7,443.3 417.0,463.3 418.0,440.0 C419.0,416.7 408.0,422.7 408.0,400.0 C408.0,377.3 407.3,388.7 418.0,372.0 Z"/>
      <path filter="url(#b2)" fill="#3a3a3a" d="M440.0,640.0 C455.0,625.0 456.7,618.3 470.0,625.0 C483.3,631.7 480.0,633.3 480.0,660.0 C480.0,686.7 491.7,690.0 470.0,705.0 C448.3,720.0 430.0,716.7 415.0,705.0 C400.0,693.3 416.7,691.7 425.0,670.0 C433.3,648.3 425.0,655.0 440.0,640.0 Z"/>
      <path filter="url(#b1)" fill="none" stroke="#3c3c3c" stroke-width="7" stroke-linecap="round" stroke-linejoin="round" d="M398.0,480.0 C396.0,493.3 395.3,495.0 392.0,520.0 C388.7,545.0 389.3,543.3 388.0,555.0"/>
      <path filter="url(#b2)" fill="none" stroke="#444444" stroke-width="16" stroke-linecap="round" stroke-linejoin="round" d="M511.5,470.7 C506.5,495.7 509.8,500.7 496.5,545.7 C483.2,590.7 489.8,565.7 471.5,605.7 C453.2,645.7 451.5,645.7 441.5,665.7"/>
      <path filter="url(#b2)" fill="#8a8a8a" d="M560.0,385.0 C573.3,378.3 580.0,381.7 600.0,400.0 C620.0,418.3 616.7,416.7 620.0,440.0 C623.3,463.3 626.7,458.3 610.0,470.0 C593.3,481.7 591.7,480.0 570.0,475.0 C548.3,470.0 548.3,473.3 545.0,455.0 C541.7,436.7 555.0,443.3 560.0,420.0 C565.0,396.7 546.7,391.7 560.0,385.0 Z"/>
      <path filter="url(#b2)" fill="none" stroke="#b0b0b0" stroke-width="14" stroke-linecap="round" stroke-linejoin="round" d="M625.0,492.0 C650.0,494.0 648.3,498.0 700.0,498.0 C751.7,498.0 745.0,496.0 780.0,492.0 C815.0,488.0 796.7,488.0 805.0,486.0"/>
      <path filter="url(#b2)" fill="#050505" d="M548.0,507.0 C571.3,504.0 549.3,515.0 600.0,518.0 C650.7,521.0 636.7,522.0 700.0,516.0 C763.3,510.0 749.3,503.3 790.0,500.0 C830.7,496.7 808.0,494.3 822.0,506.0 C836.0,517.7 830.7,512.0 832.0,535.0 C833.3,558.0 836.7,552.0 826.0,575.0 C815.3,598.0 825.3,591.0 800.0,604.0 C774.7,617.0 783.3,612.0 750.0,614.0 C716.7,616.0 736.7,608.0 700.0,610.0 C663.3,612.0 683.3,616.7 640.0,620.0 C596.7,623.3 606.0,625.3 570.0,620.0 C534.0,614.7 548.0,624.0 532.0,604.0 C516.0,584.0 522.7,585.7 522.0,560.0 C521.3,534.3 521.3,544.7 530.0,527.0 C538.7,509.3 524.7,510.0 548.0,507.0 Z"/>
      <path filter="url(#b3)" fill="#2e2e2e" d="M650.0,570.0 C665.0,555.3 663.3,559.3 700.0,556.0 C736.7,552.7 726.7,550.3 760.0,560.0 C793.3,569.7 796.7,568.3 800.0,585.0 C803.3,601.7 803.3,603.0 770.0,610.0 C736.7,617.0 738.3,609.3 700.0,606.0 C661.7,602.7 671.7,612.0 655.0,600.0 C638.3,588.0 635.0,584.7 650.0,570.0 Z"/>
      <path filter="url(#b3)" fill="none" stroke="#262626" stroke-width="10" stroke-linecap="round" stroke-linejoin="round" d="M690.0,540.0 C706.7,542.7 710.0,548.0 740.0,548.0 C770.0,548.0 766.7,542.7 780.0,540.0"/>
      <path filter="url(#b0)" fill="none" stroke="#e8e8e8" stroke-width="5" stroke-linecap="round" stroke-linejoin="round" d="M546.5,474.7 C554.8,481.7 554.5,482.0 571.5,495.7 C588.5,509.4 588.8,509.0 597.5,515.7"/>
      <path filter="url(#b0)" fill="#f0f0f0" d="M552.5,526.7 C561.8,521.4 571.5,521.4 581.5,526.7 C591.5,532.0 591.8,537.4 582.5,542.7 C573.2,548.0 563.5,548.0 553.5,542.7 C543.5,537.4 543.2,532.0 552.5,526.7 Z"/>
      <path filter="url(#b1)" fill="none" stroke="#cdcdcd" stroke-width="27" stroke-linecap="round" stroke-linejoin="round" d="M402.0,326.0 C408.0,319.0 397.3,317.0 420.0,305.0 C442.7,293.0 431.7,294.3 470.0,290.0 C508.3,285.7 493.3,284.7 535.0,292.0 C576.7,299.3 561.3,292.7 595.0,312.0 C628.7,331.3 617.0,320.7 636.0,350.0 C655.0,379.3 648.7,371.3 652.0,400.0 C655.3,428.7 654.0,417.7 646.0,436.0 C638.0,454.3 634.0,448.7 628.0,455.0"/>
      <path filter="url(#b1)" fill="#2a2a2a" d="M436.0,336.0 C440.0,326.3 440.3,324.7 470.0,318.0 C499.7,311.3 491.7,311.3 525.0,316.0 C558.3,320.7 542.3,318.7 570.0,332.0 C597.7,345.3 587.3,336.7 608.0,356.0 C628.7,375.3 623.3,368.7 632.0,390.0 C640.7,411.3 642.7,416.0 634.0,420.0 C625.3,424.0 627.3,416.7 606.0,402.0 C584.7,387.3 595.3,390.0 570.0,376.0 C544.7,362.0 556.7,368.0 530.0,360.0 C503.3,352.0 514.0,356.3 490.0,352.0 C466.0,347.7 476.0,352.3 458.0,347.0 C440.0,341.7 432.0,345.7 436.0,336.0 Z"/>
      <path fill="#ffffff" d="M696.5,423.0 L814.0,423.0 L814.0,438.0 L816.5,443.0 L814.0,471.0 L801.5,483.0 L781.5,478.0 L621.5,481.0 L619.0,471.0 L641.5,468.0 L644.0,458.0 L681.5,453.0 L684.0,441.0 L696.5,436.0 Z"/>
      <path filter="url(#b1)" fill="#000" d="M30,380 L78,380 L74,460 L72,560 L73,740 L30,740 Z"/>
      </g>
    </g>
  </g>
<!--BRAIN_END-->
</svg>

<div class="t strip c" id="s1" style="left:222.7px;top:14.8px;">gAN</div>
<div class="t strip c" id="s2" style="left:522.7px;top:14.8px;">hAN</div>

<div class="t ax" id="y1" style="left:52.5px;top:232.8px;">1</div>
<div class="t ax" id="y0" style="left:52.2px;top:446.8px;">0</div>

<div class="t ax c" style="left:121.5px;top:649.2px;">0</div>
<div class="t ax c" style="left:189.1px;top:649.2px;">1</div>
<div class="t ax c" style="left:256.7px;top:649.2px;">10</div>
<div class="t ax c" style="left:324.9px;top:649.2px;">100</div>
<div class="t ax c" style="left:421.5px;top:649.2px;">0</div>
<div class="t ax c" style="left:489.1px;top:649.2px;">1</div>
<div class="t ax c" style="left:556.7px;top:649.2px;">10</div>
<div class="t ax c" style="left:624.9px;top:649.2px;">100</div>

<div class="t big c" id="xl" style="left:373px;top:683.8px;">group</div>
<div class="t big" id="yl" style="left:18.6px;top:340.8px;transform:translate(-50%,-50%) rotate(-90deg) scaleX(1.005);transform-origin:50% 50%;font-size:30.8px;">mOFC BOLD signal (SE)</div>

<div class="t big" id="lt" style="left:695px;top:265.4px;--sx:0.992;">reward level</div>
<div class="t leg" id="l0" style="left:730px;top:301.7px;">0</div>
<div class="t leg" id="l1" style="left:730px;top:332.4px;">1</div>
<div class="t leg" id="l2" style="left:730px;top:363.1px;">10</div>
<div class="t leg" id="l3" style="left:730px;top:393.8px;">100</div>
</body>
</html>
